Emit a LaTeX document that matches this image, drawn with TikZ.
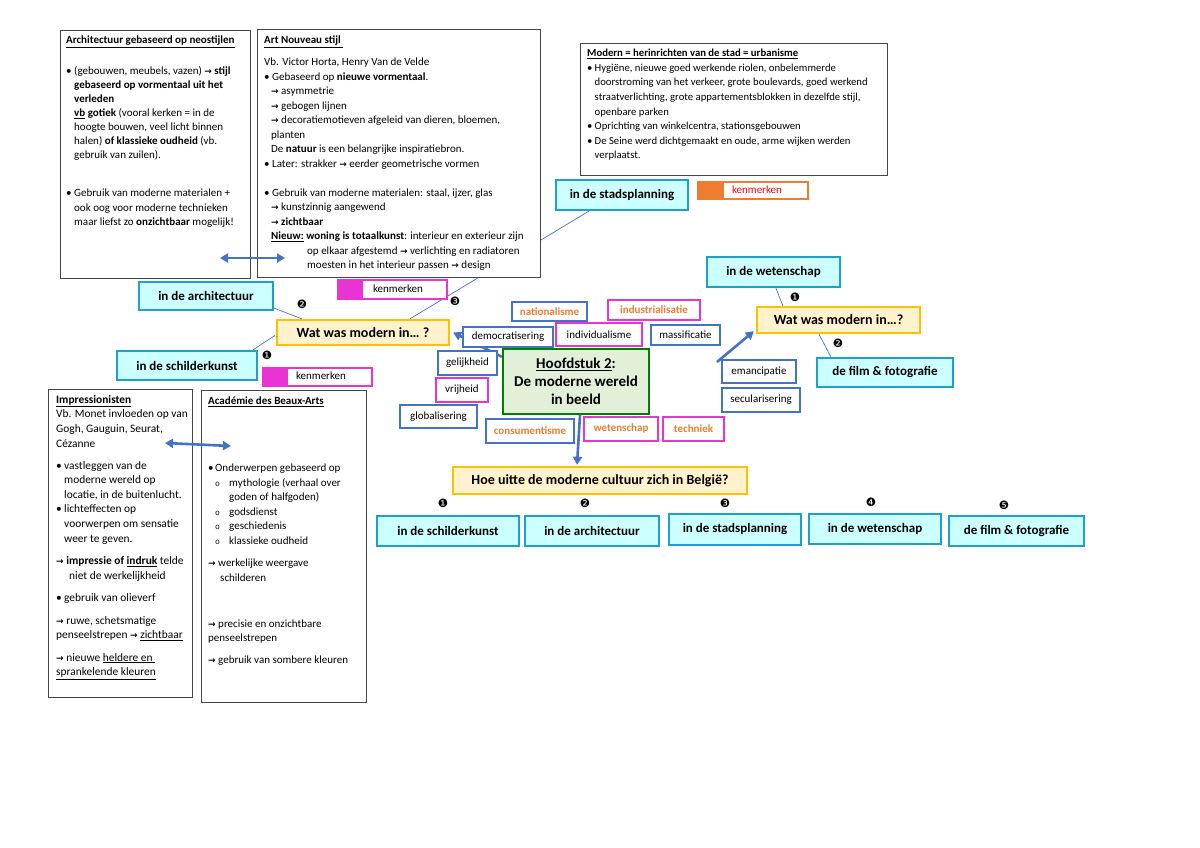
\documentclass[tikz,border=0pt]{standalone}
\usepackage{fontspec}
\setmainfont{Carlito}
\newfontfamily\dejavu{DejaVu Sans}
\newfontfamily\monof{Liberation Mono}
\usetikzlibrary{arrows.meta,calc}
\pgfdeclarelayer{bottom}
\pgfdeclarelayer{background}
\pgfsetlayers{bottom,background,main}
\definecolor{cyanF}{RGB}{204,255,255}
\definecolor{cyanB}{RGB}{30,160,205}
\definecolor{yelF}{RGB}{255,242,204}
\definecolor{yelB}{RGB}{255,192,0}
\definecolor{grnF}{RGB}{226,240,217}
\definecolor{grnB}{RGB}{0,128,0}
\definecolor{blueL}{RGB}{68,114,196}
\definecolor{mag}{RGB}{232,52,210}
\definecolor{orgC}{RGB}{237,125,49}
\definecolor{frameC}{RGB}{70,70,70}
\newcommand{\ra}{{\dejavu\bfseries\fontsize{9}{9}\selectfont →}}
\newcommand{\bul}[1][8pt]{\makebox[#1][l]{•}}
\newcommand{\ind}[1]{\hspace*{#1pt}}
\newcommand{\ob}{\makebox[14pt][l]{\monof\fontsize{8}{8}\selectfont o}}
\begin{document}
\begin{tikzpicture}[x=1pt,y=-1pt,
  frame/.style={draw=frameC, line width=0.9pt, fill=white, inner sep=0pt, anchor=north west},
  txt/.style={anchor=north west, inner sep=0pt, align=left, font=\fontsize{11}{14.5}\selectfont},
  cyanbox/.style={draw=cyanB, fill=cyanF, line width=2.4pt, inner sep=0pt, font=\fontsize{13}{14}\selectfont\bfseries},
  yelbox/.style={draw=yelB, fill=yelF, line width=2.4pt, inner sep=0pt, font=\fontsize{14}{15}\selectfont\bfseries},
  sbox/.style={draw=blueL, fill=white, line width=1.2pt, inner sep=0pt, font=\fontsize{11}{12}\selectfont},
  mbox/.style={draw=mag, fill=white, line width=1.8pt, inner sep=0pt, font=\fontsize{11}{12}\selectfont},
  otext/.style={text=orgC, font=\fontsize{11}{12}\selectfont\bfseries},
  numS/.style={inner sep=0pt, font=\dejavu\fontsize{11.5}{11.5}\selectfont},
  thin/.style={draw=blueL, line width=0.7pt},
  thick/.style={draw=blueL, line width=2.6pt, -{Triangle[length=8pt,width=9pt]}},
  dbl/.style={draw=blueL, line width=2.6pt, {Triangle[length=8pt,width=9pt]}-{Triangle[length=8pt,width=9pt]}}
]
\begin{pgfonlayer}{bottom}
\fill[white] (0,0) rectangle (1200,848);
\end{pgfonlayer}
\useasboundingbox (0,0) rectangle (1200,848);

% ---------- text boxes ----------
\node[frame, minimum width=190pt, minimum height=248pt] (neo) at (60,30) {};
\node[txt] (neoT) at (66,36) {%
\underline{\textbf{Architectuur gebaseerd op neostijlen}}\\[16.5pt]
\bul(gebouwen, meubels, vazen) \ra\ \textbf{stijl}\\[-0.5pt]
\ind{8}\textbf{gebaseerd op vormentaal uit het}\\[-0.5pt]
\ind{8}\textbf{verleden}\\[-0.5pt]
\ind{8}\underline{\textbf{vb}} \textbf{gotiek} (vooral kerken = in de\\[-0.5pt]
\ind{8}hoogte bouwen, veel licht binnen\\[-0.5pt]
\ind{8}halen) \textbf{of klassieke oudheid} (vb.\\[-0.5pt]
\ind{8}gebruik van zuilen).\\[23.5pt]
\bul Gebruik van moderne materialen +\\
\ind{8}ook oog voor moderne technieken\\
\ind{8}maar liefst zo \textbf{onzichtbaar} mogelijk!};

\node[frame, minimum width=283pt, minimum height=248pt] (artn) at (257,29) {};
\node[txt] (artnT) at (264,36) {%
\underline{\textbf{Art Nouveau stijl }}\\[7.5pt]
Vb. Victor Horta, Henry Van de Velde\\
\bul Gebaseerd op \textbf{nieuwe vormentaal}.\\
\ind{7}\ra\ asymmetrie\\
\ind{7}\ra\ gebogen lijnen\\
\ind{7}\ra\ decoratiemotieven afgeleid van dieren, bloemen,\\
\ind{7}planten\\
\ind{7}De \textbf{natuur} is een belangrijke inspiratiebron.\\
\bul Later: strakker \ra\ eerder geometrische vormen\\[14.5pt]
\bul Gebruik van moderne materialen: staal, ijzer, glas\\
\ind{7}\ra\ kunstzinnig aangewend\\
\ind{7}\ra\ \textbf{zichtbaar}\\
\ind{7}\underline{\textbf{Nieuw:}} \textbf{woning is totaalkunst}: interieur en exterieur zijn\\
\ind{43}op elkaar afgestemd \ra\ verlichting en radiatoren\\
\ind{43}moesten in het interieur passen \ra\ design};

\node[frame, minimum width=307pt, minimum height=132pt] (urb) at (580,43) {};
\node[txt, font=\fontsize{10.7}{14.6}\selectfont] (urbT) at (587,49) {%
\underline{\textbf{Modern = herinrichten van de stad = urbanisme}}\\
\bul[7.5pt]Hygiëne, nieuwe goed werkende riolen, onbelemmerde\\
\ind{7.5}doorstroming van het verkeer, grote boulevards, goed werkend\\
\ind{7.5}straatverlichting, grote appartementsblokken in dezelfde stijl,\\
\ind{7.5}openbare parken\\
\bul[7.5pt]Oprichting van winkelcentra, stationsgebouwen\\
\bul[7.5pt]De Seine werd dichtgemaakt en oude, arme wijken werden\\
\ind{7.5}verplaatst.};

\node[frame, minimum width=144pt, minimum height=308pt] (imp) at (48,389) {};
\node[txt, font=\fontsize{11.4}{14.6}\selectfont] (impT) at (56,395) {%
\underline{\textbf{Impressionisten}}\\
Vb. Monet invloeden op van\\
Gogh, Gauguin, Seurat,\\
Cézanne\\[7.5pt]
\bul vastleggen van de\\
\ind{8}moderne wereld op\\
\ind{8}locatie, in de buitenlucht.\\
\bul lichteffecten op\\
\ind{8}voorwerpen om sensatie\\
\ind{8}weer te geven.\\[8pt]
\ra\ \textbf{impressie of \underline{indruk}} telde\\
\ind{13}niet de werkelijkheid\\[8pt]
\bul gebruik van olieverf\\[7.5pt]
\ra\ ruwe, schetsmatige\\
penseelstrepen \ra\ \underline{zichtbaar}\\[8pt]
\ra\ nieuwe \underline{heldere en }\\
\underline{sprankelende kleuren}};

\node[frame, minimum width=165pt, minimum height=312pt] (acad) at (201,390) {};
\node[txt] (acadT) at (208,397) {%
\underline{\textbf{Académie des Beaux-Arts}}\\[52.5pt]
\bul[7pt]Onderwerpen gebaseerd op\\
\ind{7}\ob mythologie (verhaal over\\
\ind{21}goden of halfgoden)\\
\ind{7}\ob godsdienst\\
\ind{7}\ob geschiedenis\\
\ind{7}\ob klassieke oudheid\\[8pt]
\ra\ werkelijke weergave\\
\ind{12}schilderen\\[31.5pt]
\ra\ precisie en onzichtbare\\
penseelstrepen\\[7.5pt]
\ra\ gebruik van sombere kleuren};

% ---------- kenmerken ----------
\node[draw=mag, line width=1.8pt, fill=white, inner sep=0pt, minimum width=109pt, minimum height=19pt, anchor=north west] (ken1) at (337,279) {};
\fill[mag] (ken1.north west) rectangle ($(ken1.south west)+(26,0)$);
\node[inner sep=0pt, font=\fontsize{11}{12}\selectfont] (ken1t) at (398,289) {kenmerken};

\node[draw=mag, line width=1.8pt, fill=white, inner sep=0pt, minimum width=109pt, minimum height=18pt, anchor=north west] (ken2) at (262,367) {};
\fill[mag] (ken2.north west) rectangle ($(ken2.south west)+(26,0)$);
\node[inner sep=0pt, font=\fontsize{11}{12}\selectfont] (ken2t) at (321,376) {kenmerken};

\node[draw=orgC, line width=1.8pt, fill=white, inner sep=0pt, minimum width=110pt, minimum height=17pt, anchor=north west] (ken3) at (697,181) {};
\fill[orgC] (ken3.north west) rectangle ($(ken3.south west)+(27,0)$);
\node[inner sep=0pt, text=red, font=\fontsize{11}{12}\selectfont] (ken3t) at (757,189.5) {kenmerken};

% ---------- cyan boxes ----------
\node[cyanbox, minimum width=132pt, minimum height=30pt] (stad1) at (622,195) {in de stadsplanning};
\node[cyanbox, minimum width=134pt, minimum height=28pt] (arch1) at (206,296) {in de architectuur};
\node[cyanbox, minimum width=140pt, minimum height=29pt] (schil1) at (187,365.5) {in de schilderkunst};
\node[cyanbox, minimum width=133pt, minimum height=30pt] (wet1) at (773.5,272) {in de wetenschap};
\node[cyanbox, minimum width=136pt, minimum height=29pt] (film1) at (885,372.5) {de film \& fotografie};

\node[cyanbox, minimum width=142pt, minimum height=30pt] (schil2) at (448,531) {in de schilderkunst};
\node[cyanbox, minimum width=134pt, minimum height=30pt] (arch2) at (592,531) {in de architectuur};
\node[cyanbox, minimum width=132pt, minimum height=31pt] (stad2) at (735,529.5) {in de stadsplanning};
\node[cyanbox, minimum width=132pt, minimum height=30pt] (wet2) at (875,529) {in de wetenschap};
\node[cyanbox, minimum width=135pt, minimum height=30pt] (film2) at (1016.5,531) {de film \& fotografie};

% ---------- yellow boxes ----------
\node[yelbox, minimum width=172pt, minimum height=25pt] (wat1) at (363,332.5) {Wat was modern in… ?};
\node[yelbox, minimum width=163pt, minimum height=26pt] (wat2) at (838.5,320) {Wat was modern in…?};
\node[yelbox, minimum width=294pt, minimum height=27pt] (hoe) at (600,480.5) {Hoe uitte de moderne cultuur zich in België?};

% ---------- central box ----------
\node[draw=grnB, fill=grnF, line width=2.4pt, inner sep=0pt, minimum width=146pt, minimum height=65pt, align=center, font=\fontsize{15}{18}\selectfont\bfseries] (hoofd) at (576,381.5) {\underline{Hoofdstuk 2}:\\De moderne wereld\\in beeld};

% ---------- small boxes ----------
\node[sbox, minimum width=75pt, minimum height=19pt, otext] (nat) at (549.5,311.5) {nationalisme};
\node[mbox, minimum width=92pt, minimum height=20pt, otext] (ind) at (654,310) {industrialisatie};
\node[sbox, minimum width=90pt, minimum height=20pt] (dem) at (508,337) {democratisering};
\node[mbox, minimum width=86pt, minimum height=23pt] (indiv) at (599,334.5) {individualisme};
\node[sbox, minimum width=69pt, minimum height=20pt] (mas) at (685.5,335) {massificatie};
\node[sbox, minimum width=59pt, minimum height=24pt] (gel) at (467.5,363) {gelijkheid};
\node[mbox, minimum width=52pt, minimum height=24pt] (vrij) at (462,390) {vrijheid};
\node[sbox, minimum width=77pt, minimum height=23pt] (glob) at (438.5,416.5) {globalisering};
\node[sbox, minimum width=88pt, minimum height=24pt, otext] (cons) at (530,431) {consumentisme};
\node[mbox, minimum width=74pt, minimum height=24pt, otext] (wetk) at (621,429) {wetenschap};
\node[mbox, minimum width=61pt, minimum height=24pt, otext] (tech) at (693.5,429) {techniek};
\node[sbox, minimum width=74pt, minimum height=23pt] (eman) at (759,371.5) {emancipatie};
\node[sbox, minimum width=78pt, minimum height=24pt] (secu) at (761,400) {secularisering};

% ---------- numbers ----------
\node[numS] (n2a) at (302,304) {❷};
\node[numS] (n3a) at (455,301) {❸};
\node[numS] (n1a) at (267,355) {❶};
\node[numS] (n1b) at (795,297) {❶};
\node[numS] (n2b) at (838,343) {❷};
\node[numS] (b1) at (443,503) {❶};
\node[numS] (b2) at (585,503) {❷};
\node[numS] (b3) at (725,503) {❸};
\node[numS] (b4) at (871,502) {❹};
\node[numS] (b5) at (1004,505) {❺};

% ---------- connectors (behind boxes) ----------
\coordinate (t2) at (717,362);
\begin{pgfonlayer}{background}
\draw[thin] ($(arch1.south east)+(0,-3)$) -- ($(wat1.north west)+(26,0)$);
\draw[thin] ($(wat1.west)+(-1,3)$) -- ($(schil1.north east)+(-5,0)$);
\draw[thin] ($(wat1.north)+(47,0)$) -- ($(stad1.south west)+(34,0)$);
\draw[thin] ($(wet1.south)+(2.5,0)$) -- ($(wat2.north west)+(27,0)$);
\draw[thin] ($(wat2.south)+(-19.5,0)$) -- ($(film1.north west)+(15,0)$);
\draw[thick] ($(hoofd.north west)+(0,9)$) -- ($(wat1.east)+(3,0)$);
\draw[thick] ($(hoofd.south)+(4,0)$) -- ($(hoe.north)+(-23,-1)$);
\end{pgfonlayer}
\draw[thick] (t2) -- ($(wat2.south west)+(-2,-3)$);

% ---------- double arrows ----------
\coordinate (da1) at (220,258);
\coordinate (da2) at (285,258);
\coordinate (db1) at (165,443);
\coordinate (db2) at (231,446);
\draw[dbl] (da1) -- (da2);
\draw[dbl] (db1) -- (db2);
\end{tikzpicture}
\end{document}
